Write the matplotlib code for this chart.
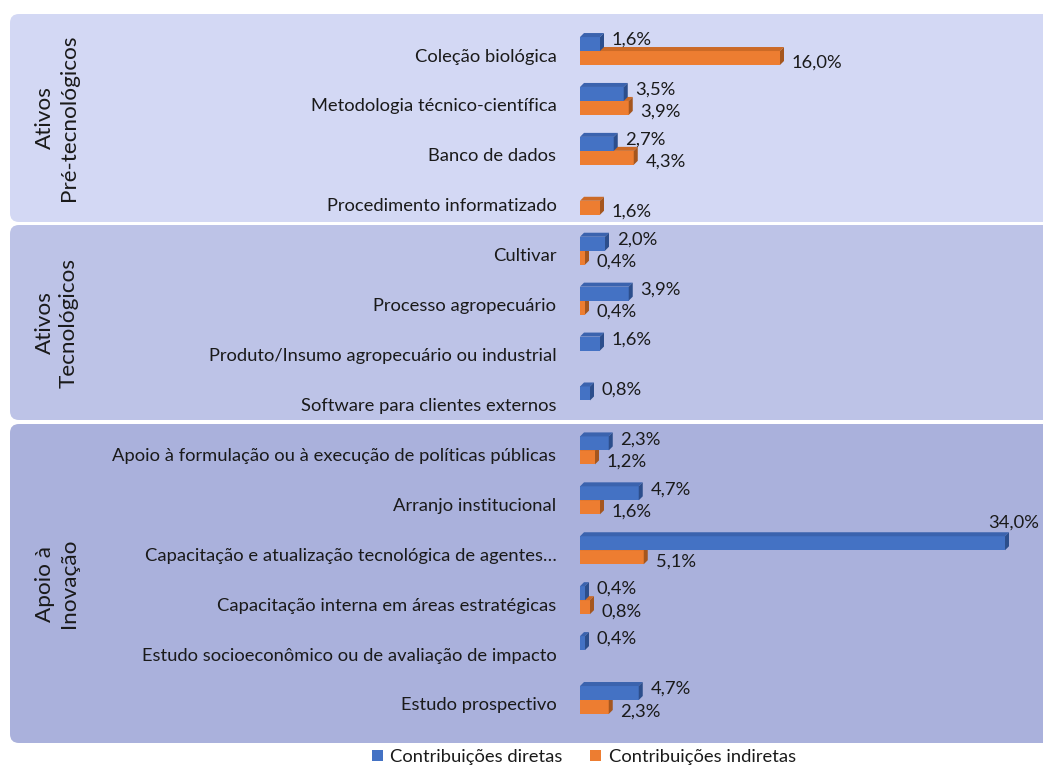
import matplotlib
matplotlib.use("Agg")
import matplotlib.pyplot as plt
from matplotlib.patches import FancyBboxPatch, Polygon, Patch

plt.rcParams['font.family'] = ['Lato', 'DejaVu Sans']

categories = [
    "Coleção biológica",
    "Metodologia técnico-científica",
    "Banco de dados",
    "Procedimento informatizado",
    "Cultivar",
    "Processo agropecuário",
    "Produto/Insumo agropecuário ou industrial",
    "Software para clientes externos",
    "Apoio à formulação ou à execução de políticas públicas",
    "Arranjo institucional",
    "Capacitação e atualização tecnológica de agentes…",
    "Capacitação interna em áreas estratégicas",
    "Estudo socioeconômico ou de avaliação de impacto",
    "Estudo prospectivo",
]
diretas = [1.6, 3.5, 2.7, None, 2.0, 3.9, 1.6, 0.8, 2.3, 4.7, 34.0, 0.4, 0.4, 4.7]
indiretas = [16.0, 3.9, 4.3, 1.6, 0.4, 0.4, None, None, 1.2, 1.6, 5.1, 0.8, None, 2.3]
groups = ["Ativos\nPré-tecnológicos", "Ativos\nTecnológicos", "Apoio à\nInovação"]
series_names = ["Contribuições diretas", "Contribuições indiretas"]

W, H = 1043, 765
fig = plt.figure(figsize=(W / 100, H / 100), dpi=100)
fig.patch.set_facecolor("white")

FS = 13.2

# background panels (inches, via dpi_scale_trans)
panel_px = [(14, 222), (225, 420), (424, 743)]
panel_cols = ["#D3D8F4", "#BDC3E7", "#AAB1DC"]
for (top, bot), col in zip(panel_px, panel_cols):
    p = FancyBboxPatch((0.10, (H - bot) / 100), 10.6, (bot - top) / 100,
                       boxstyle="round,pad=0,rounding_size=0.09",
                       transform=fig.dpi_scale_trans, facecolor=col,
                       edgecolor="none", zorder=0)
    fig.add_artist(p)

# group labels
for (top, bot), g in zip(panel_px, groups):
    fig.text(57 / W, 1 - ((top + bot) / 2) / H, g, rotation=90,
             ha="center", va="center", fontsize=16.2, color="#1a1a1a",
             linespacing=1.25)

# axes
x0, y_top, y_bot = 580, 30.05, 728.95
ax = fig.add_axes([x0 / W, 1 - y_bot / H, (W - x0) / W, (y_bot - y_top) / H])
ax.set_facecolor("none")
px_per_pct = 12.5
ax.set_xlim(0, (W - x0) / px_per_pct)
n = len(categories)
ax.set_ylim(n - 0.5, -0.5)
for s in ax.spines.values():
    s.set_visible(False)
ax.set_xticks([])
ax.set_yticks(range(n))
ax.set_yticklabels(categories, fontsize=FS, color="#1a1a1a")
ax.tick_params(axis="y", length=0, pad=17)

bh = 0.28
shift = -0.08
dx = 4 / px_per_pct
dy = 4 / 49.9

front = ["#4472C4", "#ED7D31"]
topc = ["#3B63AE", "#CC6A26"]
side = ["#2C4E8C", "#A5561E"]

def draw_bar(v, yc, k):
    if v is None:
        return
    z = 3 if k == 0 else 2
    yt, yb = yc - bh / 2, yc + bh / 2
    ax.barh(yc, v, height=bh, left=0, color=front[k], zorder=z)
    ax.add_patch(Polygon([(0, yt), (v, yt), (v + dx, yt - dy), (dx, yt - dy)],
                         closed=True, facecolor=topc[k], edgecolor="none", zorder=z))
    ax.add_patch(Polygon([(v, yt), (v + dx, yt - dy), (v + dx, yb - dy), (v, yb)],
                         closed=True, facecolor=side[k], edgecolor="none", zorder=z))

xmax = ax.get_xlim()[1]
for i in range(n):
    yb_c = i + shift - bh / 2
    yo_c = i + shift + bh / 2
    draw_bar(indiretas[i], yo_c, 1)
    draw_bar(diretas[i], yb_c, 0)
    for k, (v, yc) in enumerate([(diretas[i], yb_c), (indiretas[i], yo_c)]):
        if v is None:
            continue
        lab = f"{v:.1f}%".replace(".", ",")
        if v + 4 > xmax:
            ax.annotate(lab, (v, yc - bh / 2 - dy), xytext=(-12, 1),
                        textcoords="offset points", ha="left", va="bottom",
                        fontsize=FS, color="#1a1a1a", annotation_clip=False)
        else:
            ax.annotate(lab, (v, yc), xytext=(8.5, 3 if k == 0 else -3),
                        textcoords="offset points", ha="left", va="center",
                        fontsize=FS, color="#1a1a1a")

handles = [Patch(facecolor=front[0]), Patch(facecolor=front[1])]
fig.legend(handles, series_names, loc="center", bbox_to_anchor=(584 / W, 1 - 757 / H),
           ncol=2, frameon=False, fontsize=FS, handlelength=0.6, handleheight=0.6,
           handletextpad=0.4, columnspacing=1.5, labelcolor="#1a1a1a")

fig.savefig("out.png", dpi=100, facecolor="white")
